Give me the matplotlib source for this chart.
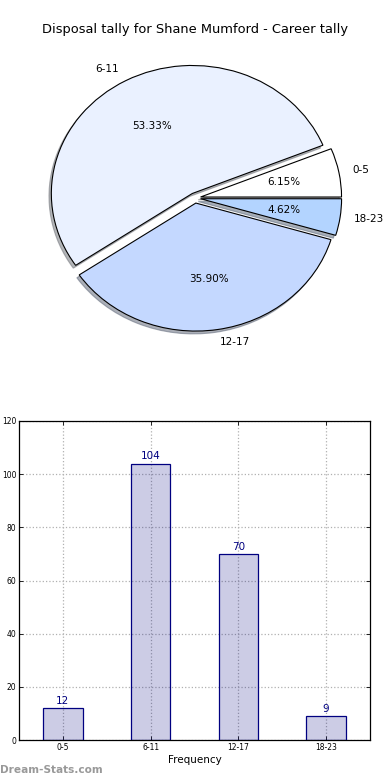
import matplotlib
matplotlib.use("Agg")
import matplotlib.pyplot as plt

categories = ["0-5", "6-11", "12-17", "18-23"]
counts = [12, 104, 70, 9]
pie_colors = ["#FFFFFF", "#EAF1FF", "#C4D8FF", "#B3D4FF"]
explode = [0.04, 0.04, 0.04, 0.04]
yticks = [0, 20, 40, 60, 80, 100, 120]
title = "Disposal tally for Shane Mumford - Career tally"

W, H = 390, 780
fig = plt.figure(figsize=(W / 100, H / 100), dpi=100)

def px_axes(x0, y0, x1, y1):
    return fig.add_axes([x0 / W, 1 - y1 / H, (x1 - x0) / W, (y1 - y0) / H])

# Pie
cx, cy, rx, ry = 195, 198, 141, 128
lim = 1.3
axp = px_axes(cx - lim * rx, cy - lim * ry, cx + lim * rx, cy + lim * ry)
wedges, texts, autotexts = axp.pie(
    counts, labels=categories, colors=pie_colors, explode=explode,
    autopct="%1.2f%%", shadow=dict(ox=-0.012, oy=-0.016, shade=0.55), startangle=0,
    wedgeprops=dict(edgecolor="black", linewidth=0.8),
    textprops=dict(fontsize=7.5))
axp.set_aspect("auto")
axp.set_xlim(-lim, lim)
axp.set_ylim(-lim, lim)
axp.axis("off")

fig.text(0.5, 1 - 30 / H, title, ha="center", va="center", fontsize=9.4)

# Bar chart
axb = px_axes(19, 421, 370, 740)
x = list(range(len(categories)))
axb.bar(x, counts, width=0.45, color="navy", alpha=0.2, zorder=2)
axb.bar(x, counts, width=0.45, facecolor="none", edgecolor="navy", linewidth=0.9, zorder=3)
for xi, v in zip(x, counts):
    axb.text(xi, v + 0.8, str(v), ha="center", va="bottom", color="navy", fontsize=7.5)
axb.set_xlim(-0.5, 3.5)
axb.set_ylim(0, 120)
axb.set_yticks(yticks)
axb.set_xticks(x)
axb.set_xticklabels(categories)
axb.tick_params(axis="both", labelsize=5.5, direction="in", length=3, width=0.6, pad=2,
                top=True, right=True)
axb.grid(True, linestyle=":", color="#b0b0b0", linewidth=0.9, zorder=0)
axb.set_axisbelow(True)
axb.set_xlabel("Frequency", fontsize=7.5, labelpad=2)
for s in axb.spines.values():
    s.set_linewidth(0.9)

fig.text(0 / W, 1 - 770 / H, "Dream-Stats.com", ha="left", va="center",
         fontsize=7.6, color="#999999", fontweight="bold")

fig.savefig("out.png", dpi=100)
